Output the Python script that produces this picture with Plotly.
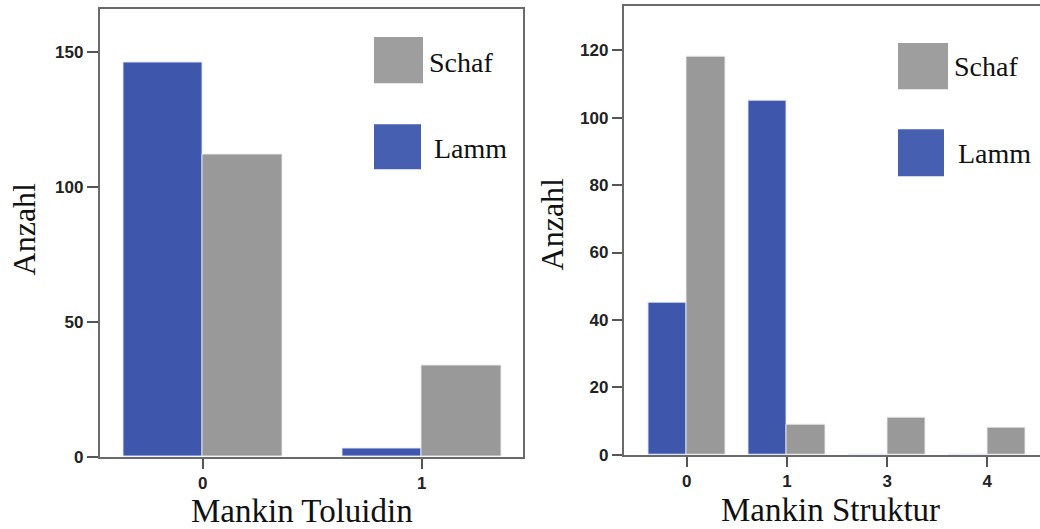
import plotly.graph_objects as go

# ---- data ----
tol_categories = ["0", "1"]
tol_lamm = [146, 3]
tol_schaf = [112, 34]

str_categories = ["0", "1", "3", "4"]
str_lamm = [45, 105, 0, 0]
str_schaf = [118, 9, 11, 8]

series_names = ["Lamm", "Schaf"]
y_title = "Anzahl"
x_title_left = "Mankin Toluidin"
x_title_right = "Mankin Struktur"

BLUE = "#3E57AC"
GRAY = "#999999"
W, H = 1040, 529          # reference picture size (layout coordinates below are in these pixels)
FIG_H = 540               # figure height; the capture compresses it vertically to the 529 px window


def px(x):
    return x / W


def py(y):
    return 1 - y / H


fig = go.Figure()
blue_line = dict(color="rgba(225,232,255,0.9)", width=1)
gray_line = dict(color="rgba(235,235,235,0.9)", width=1)

fig.add_trace(go.Bar(x=tol_categories, y=tol_lamm, name=series_names[0], marker=dict(color=BLUE, line=blue_line),
                     xaxis="x", yaxis="y", showlegend=False))
fig.add_trace(go.Bar(x=tol_categories, y=tol_schaf, name=series_names[1], marker=dict(color=GRAY, line=gray_line),
                     xaxis="x", yaxis="y", showlegend=False))
fig.add_trace(go.Bar(x=str_categories, y=str_lamm, name=series_names[0], marker=dict(color=BLUE, line=blue_line),
                     xaxis="x2", yaxis="y2", showlegend=False))
fig.add_trace(go.Bar(x=str_categories, y=str_schaf, name=series_names[1], marker=dict(color=GRAY, line=gray_line),
                     xaxis="x2", yaxis="y2", showlegend=False))

tickfont = dict(family="Arial", size=17, color="#222222", weight="bold")
axline = dict(showline=True, linecolor="#6a6a6a", linewidth=1.5, showgrid=False, zeroline=False,
              ticks="outside", tickcolor="#555555", tickwidth=1.5, tickfont=tickfont)

fig.update_layout(
    width=W, height=FIG_H,
    margin=dict(l=0, r=0, t=0, b=0),
    paper_bgcolor="white", plot_bgcolor="white",
    barmode="group",
    bargap=0.0,
    showlegend=False,
    xaxis=dict(domain=[px(99.5), px(523)], anchor="y", type="category", range=[-0.471, 1.463],
               mirror=True, ticklen=10, **axline),
    yaxis=dict(domain=[py(456), py(8.5)], anchor="x", range=[0, 166.2], tickvals=[0, 50, 100, 150],
               mirror=True, ticklen=11, **axline),
    xaxis2=dict(domain=[px(623.5), 1.0], anchor="y2", type="category", range=[-0.631, 3.526],
                mirror=True, ticklen=10, **axline),
    yaxis2=dict(domain=[py(454), py(5.7)], anchor="x2", range=[0, 133.2], tickvals=[0, 20, 40, 60, 80, 100, 120],
                mirror=False, ticklen=10, **axline),
)
fig.data[0].update(width=0.363, offset=-0.363)
fig.data[1].update(width=0.363, offset=0.0)
fig.data[2].update(width=0.384, offset=-0.384)
fig.data[3].update(width=0.384, offset=0.0)

serif = "Liberation Serif, Times New Roman, serif"
ann = []


def text_at(text, x, y, size, angle=0, xanchor="center"):
    ann.append(dict(text=text, x=px(x), y=py(y), xref="paper", yref="paper", textangle=angle,
                    xanchor=xanchor, yanchor="middle", showarrow=False,
                    font=dict(family=serif, size=size, color="#111111")))


# axis titles
text_at(y_title, 24, 229, 32, angle=-90)
text_at(y_title, 552, 224, 32, angle=-90)
text_at(x_title_left, 302, 510, 33)
text_at(x_title_right, 830, 509, 33)

# custom legends
shapes = []
legend_specs = [
    (375, 422, 38, 82, GRAY, series_names[1], 427, 62),
    (375, 420, 125, 168, BLUE, series_names[0], 432, 148),
    (899, 947, 44, 88, GRAY, series_names[1], 952, 66),
    (899, 943, 130, 175, BLUE, series_names[0], 956, 153),
]
for x0, x1, y0, y1, col, lab, lx, ly in legend_specs:
    shapes.append(dict(type="rect", xref="paper", yref="paper", x0=px(x0), x1=px(x1), y0=py(y1), y1=py(y0),
                       fillcolor=col, line=dict(color=col, width=2), opacity=0.95))
    text_at(lab, lx, ly, 28, xanchor="left")

fig.update_layout(annotations=ann, shapes=shapes)
page_fix = ("var h=document.documentElement,b=document.body;"
            "b.style.margin='0';b.style.padding='0';b.style.overflow='hidden';"
            "h.style.overflow='hidden';"
            "var d=document.getElementById('{plot_id}');"
            "d.style.position='fixed';d.style.left='0px';d.style.top='0px';")
fig.write_html("out.html", config={"displayModeBar": False}, post_script=page_fix)
